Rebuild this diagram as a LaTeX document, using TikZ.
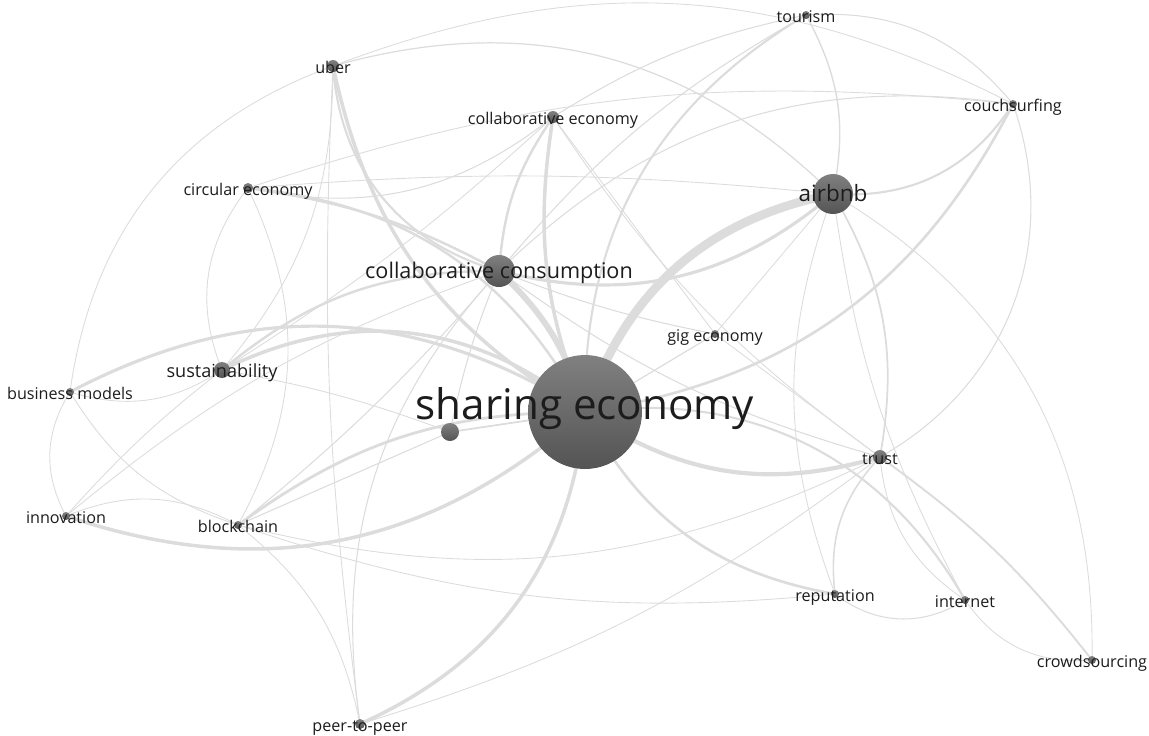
\documentclass[tikz,border=0pt]{standalone}
\usepackage{fontspec}
\setmainfont{Open Sans}
\usetikzlibrary{backgrounds}

\definecolor{edgegray}{RGB}{220,220,220}
\definecolor{nodetop}{RGB}{128,128,128}
\definecolor{nodebot}{RGB}{84,84,84}
\definecolor{txt}{RGB}{28,28,28}

\tikzset{
  kw/.style={circle, inner sep=0pt, minimum size=#1, top color=nodetop, bottom color=nodebot},
  lbl/.style={text=txt, text height=1.6ex, text depth=0pt, inner sep=0pt, font=\fontsize{#1}{#1}\selectfont},
  lnk/.style={draw=edgegray, line width=#1pt, line cap=round},
}

\begin{document}
\begin{tikzpicture}[x=0.02cm, y=-0.02cm]
	\useasboundingbox (0,0) rectangle (1149,735);
	\node[kw=2.28cm, label={[lbl=24]center:sharing economy}] (se) at (585,412) {};
	\node[kw=0.64cm, label={[lbl=12.3]center:collaborative consumption}] (cc) at (499,271) {};
	\node[kw=0.80cm, label={[lbl=12.8]center:airbnb}] (ab) at (833,194) {};
	\node[kw=0.24cm, label={[lbl=9.2]center:uber}] (ub) at (333,66) {};
	\node[kw=0.24cm, label={[lbl=9.2]center:collaborative economy}] (ce) at (553,117) {};
	\node[kw=0.20cm, label={[lbl=9.2]center:circular economy}] (cir) at (248,188) {};
	\node[kw=0.16cm, label={[lbl=9.2]center:tourism}] (tou) at (806,15) {};
	\node[kw=0.16cm, label={[lbl=9.2]center:couchsurfing}] (cs) at (1013,104) {};
	\node[kw=0.32cm, label={[lbl=10.3]center:sustainability}] (sus) at (222,370) {};
	\node[kw=0.16cm, label={[lbl=9.2]center:business models}] (bm) at (70,392) {};
	\node[kw=0.16cm, label={[lbl=9.2]center:gig economy}] (gig) at (715,334) {};
	\node[kw=0.28cm, label={[lbl=9.2]center:trust}] (tr) at (880,457) {};
	\node[kw=0.16cm, label={[lbl=9.2]center:innovation}] (inn) at (66,516) {};
	\node[kw=0.16cm, label={[lbl=9.2]center:blockchain}] (bc) at (238,525) {};
	\node[kw=0.16cm, label={[lbl=9.2]center:reputation}] (rep) at (835,594) {};
	\node[kw=0.16cm, label={[lbl=9.2]center:internet}] (net) at (965,600) {};
	\node[kw=0.16cm, label={[lbl=9.2]center:crowdsourcing}] (crs) at (1092,660) {};
	\node[kw=0.20cm, label={[lbl=9.2]center:peer-to-peer}] (p2p) at (360,724) {};
	\node[kw=0.36cm] (unk) at (450,432) {};
	% links, thin first
	\begin{pgfonlayer}{background}
	\foreach \a/\b/\bn/\w in {bm/ub/31/0.5, ub/ab/30/0.7, ub/cs/24/0.5, tou/cs/27/0.6, tou/ab/20/0.8,
	  tou/ce/-10/0.6, tou/cc/-10/0.6, cc/cs/26/0.6, cir/cs/12/0.5, cir/ab/5/0.5, ce/cir/25/0.6,
	  ce/gig/0/0.5, ce/tr/-10/0.5, cs/tr/40/0.6, ab/crs/30/0.5, ab/rep/-20/0.5, ab/net/-10/0.5,
	  ab/gig/0/0.5, tr/rep/-25/0.9, tr/net/-25/0.5, tr/gig/0/0.5, rep/net/-35/0.6, net/crs/-30/0.5,
	  bm/inn/-30/0.5, inn/sus/5/0.5, inn/bc/25/0.5, bm/sus/-25/0.5, bm/bc/-20/0.5, bc/cir/-27/0.5,
	  sus/cir/30/0.5, sus/ub/-20/0.5, sus/ce/-5/0.5, inn/cc/10/0.5, bc/p2p/20/0.5, p2p/cc/25/0.6,
	  p2p/ub/5/0.5, bc/rep/-12/0.5, p2p/tr/-10/0.5, bc/tr/-20/0.5, bc/cc/-5/0.6, cc/gig/-5/0.6,
	  cc/tr/-10/0.6, unk/cc/5/0.6, unk/bc/0/0.6, unk/sus/-5/0.5, se/gig/0/0.7, se/unk/0/1,
	  ce/cc/-15/1.4, sus/cc/20/1.4, cir/cc/10/1.4, ub/cc/-35/1.2, ab/tr/20/1, ab/cs/-30/1.2,
	  tr/crs/8/1.1, se/net/34/1.2, tou/se/-30/1.2, se/cs/-27/1.5, se/rep/-26/1.5, cc/ab/-27/1.8,
	  cir/se/28/1.4, bm/se/30/1.8, inn/se/-30/2, bc/se/18/1.6, p2p/se/-30/2, ce/se/-15/2,
	  sus/se/33/2, ub/se/-24/2, se/tr/-25/2.4, se/cc/-15/3.4, se/ab/30/5} {
	  \draw[lnk=\w] (\a.center) to[bend left=\bn] (\b.center);
	}
	\end{pgfonlayer}
\end{tikzpicture}
\end{document}
